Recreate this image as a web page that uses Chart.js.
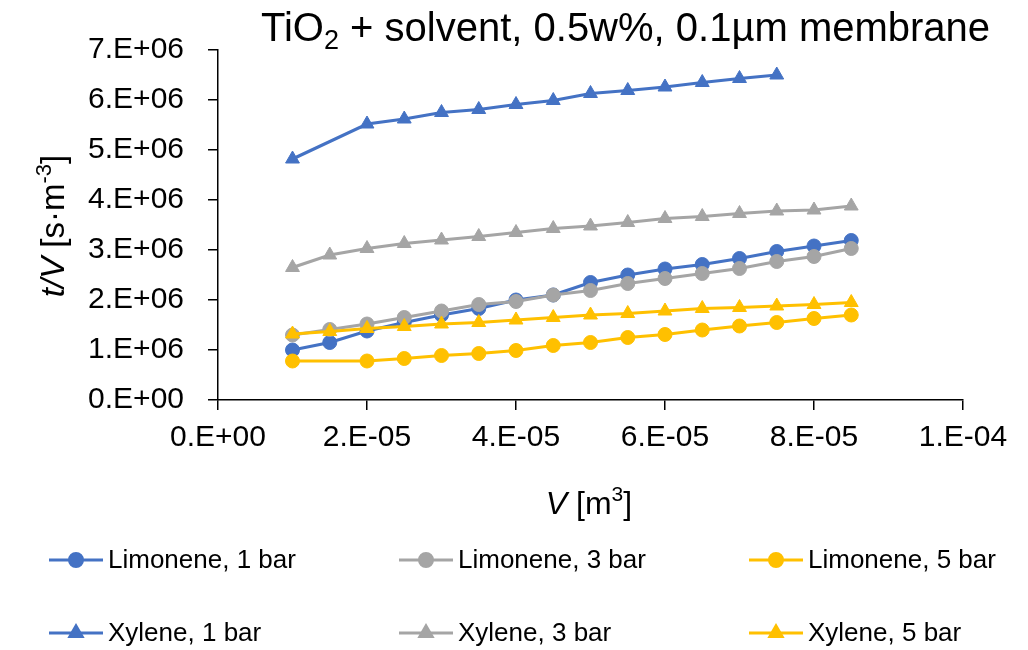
<!DOCTYPE html>
<html>
<head>
<meta charset="utf-8">
<script src="https://cdn.jsdelivr.net/npm/chart.js"></script>
<style>
  html, body { margin: 0; padding: 0; background: #fff; }
  #wrap { width: 1028px; height: 650px; }
</style>
</head>
<body>
<div id="wrap"><canvas id="filtChart" width="1028" height="650"></canvas></div>
<script>
// filtrate volume V [m3]
var volAll  = [1.0e-5, 1.5e-5, 2.0e-5, 2.5e-5, 3.0e-5, 3.5e-5, 4.0e-5, 4.5e-5,
               5.0e-5, 5.5e-5, 6.0e-5, 6.5e-5, 7.0e-5, 7.5e-5, 8.0e-5, 8.5e-5];
var volLim5 = [1.0e-5, 2.0e-5, 2.5e-5, 3.0e-5, 3.5e-5, 4.0e-5, 4.5e-5, 5.0e-5,
               5.5e-5, 6.0e-5, 6.5e-5, 7.0e-5, 7.5e-5, 8.0e-5, 8.5e-5];
var volXyl1 = [1.0e-5, 2.0e-5, 2.5e-5, 3.0e-5, 3.5e-5, 4.0e-5, 4.5e-5, 5.0e-5,
               5.5e-5, 6.0e-5, 6.5e-5, 7.0e-5, 7.5e-5];

// t/V [s/m3]
var limonene1 = [1.00e6, 1.15e6, 1.38e6, 1.55e6, 1.70e6, 1.83e6, 2.00e6, 2.10e6,
                 2.35e6, 2.50e6, 2.62e6, 2.71e6, 2.83e6, 2.97e6, 3.08e6, 3.19e6];
var limonene3 = [1.30e6, 1.41e6, 1.52e6, 1.65e6, 1.78e6, 1.91e6, 1.97e6, 2.10e6,
                 2.19e6, 2.33e6, 2.43e6, 2.53e6, 2.63e6, 2.77e6, 2.87e6, 3.03e6];
var limonene5 = [0.78e6, 0.78e6, 0.83e6, 0.89e6, 0.93e6, 0.99e6, 1.09e6, 1.15e6,
                 1.25e6, 1.31e6, 1.40e6, 1.48e6, 1.55e6, 1.63e6, 1.70e6];
var xylene1   = [4.82e6, 5.52e6, 5.62e6, 5.75e6, 5.81e6, 5.91e6, 5.99e6, 6.13e6,
                 6.19e6, 6.26e6, 6.35e6, 6.43e6, 6.50e6];
var xylene3   = [2.65e6, 2.90e6, 3.03e6, 3.13e6, 3.20e6, 3.27e6, 3.35e6, 3.43e6,
                 3.48e6, 3.55e6, 3.63e6, 3.67e6, 3.73e6, 3.78e6, 3.80e6, 3.88e6];
var xylene5   = [1.32e6, 1.37e6, 1.43e6, 1.47e6, 1.52e6, 1.55e6, 1.60e6, 1.65e6,
                 1.70e6, 1.73e6, 1.78e6, 1.83e6, 1.85e6, 1.88e6, 1.91e6, 1.95e6];

var seriesNames = ["Limonene, 1 bar", "Limonene, 3 bar", "Limonene, 5 bar",
                   "Xylene, 1 bar", "Xylene, 3 bar", "Xylene, 5 bar"];

var blue = '#4472C4';
var grey = '#A5A5A5';
var gold = '#FFC000';
var FONT = "'Liberation Sans', Arial, sans-serif";

function pts(xs, ys) {
    return xs.map(function (x, i) { return { x: x, y: ys[i] }; });
}

// 2.E-05 style labels
function sci(v) {
    var parts = Number(v).toExponential(0).split('e');
    var exp = parseInt(parts[1], 10);
    return parts[0] + '.E' + (exp < 0 ? '-' : '+') + String(Math.abs(exp)).padStart(2, '0');
}

function series(label, xs, ys, color, shape, order) {
    return {
        label: label,
        data: pts(xs, ys),
        borderColor: color,
        backgroundColor: color,
        borderWidth: 3.2,
        pointStyle: shape,
        pointRadius: shape === 'triangle' ? 8 : 7,
        pointBorderWidth: 1,
        tension: 0,
        order: order
    };
}

// draw a row of text pieces with their own fonts / offsets
function drawRuns(ctx, runs, x, y, align) {
    var total = 0;
    runs.forEach(function (r) { ctx.font = r.font; r.w = ctx.measureText(r.text).width; total += r.w; });
    var cx = align === 'center' ? x - total / 2 : x;
    ctx.textAlign = 'left';
    ctx.textBaseline = 'alphabetic';
    runs.forEach(function (r) {
        ctx.font = r.font;
        ctx.fillText(r.text, cx, y + (r.dy || 0));
        cx += r.w;
    });
}

var textPlugin = {
    id: 'textPlugin',
    afterDraw: function (chart) {
        var ctx = chart.ctx;
        ctx.save();
        ctx.fillStyle = '#000';

        // title
        drawRuns(ctx, [
            { text: 'TiO', font: '40px ' + FONT },
            { text: '2', font: '27px ' + FONT, dy: 8 },
            { text: ' + solvent, 0.5w%, 0.1µm membrane', font: '40px ' + FONT }
        ], 261, 41, 'left');

        // x axis title
        drawRuns(ctx, [
            { text: 'V', font: 'italic 32px ' + FONT },
            { text: ' [m', font: '32px ' + FONT },
            { text: '3', font: '21px ' + FONT, dy: -13 },
            { text: ']', font: '32px ' + FONT }
        ], 589, 514, 'center');

        // y axis title
        ctx.save();
        ctx.translate(64, 226);
        ctx.rotate(-Math.PI / 2);
        drawRuns(ctx, [
            { text: 't/V', font: 'italic 33px ' + FONT },
            { text: ' [s·m', font: '33px ' + FONT },
            { text: '-3', font: '22px ' + FONT, dy: -13 },
            { text: ']', font: '33px ' + FONT }
        ], 0, 0, 'center');
        ctx.restore();

        // legend, three columns by two rows
        var colX = [49, 399, 749];
        var rowY = [560, 633];
        chart.data.datasets.forEach(function (ds, i) {
            var x0 = colX[i % 3];
            var y0 = rowY[Math.floor(i / 3)];
            ctx.strokeStyle = ds.borderColor;
            ctx.fillStyle = ds.borderColor;
            ctx.lineWidth = 3;
            ctx.beginPath();
            ctx.moveTo(x0, y0);
            ctx.lineTo(x0 + 54, y0);
            ctx.stroke();
            Chart.helpers.drawPoint(ctx, {
                pointStyle: ds.pointStyle,
                radius: ds.pointStyle === 'triangle' ? 7 : 6.5,
                borderWidth: 1
            }, x0 + 27, y0);
            ctx.fill();
            ctx.fillStyle = '#000';
            ctx.font = '26px ' + FONT;
            ctx.textAlign = 'left';
            ctx.textBaseline = 'middle';
            ctx.fillText(ds.label, x0 + 59, y0 + 1);
        });
        ctx.restore();
    }
};

var tickFont = { family: FONT, size: 30 };

new Chart(document.getElementById('filtChart'), {
    type: 'line',
    data: {
        datasets: [
            series(seriesNames[0], volAll, limonene1, blue, 'circle', 5),
            series(seriesNames[1], volAll, limonene3, grey, 'circle', 4),
            series(seriesNames[2], volLim5, limonene5, gold, 'circle', 3),
            series(seriesNames[3], volXyl1, xylene1, blue, 'triangle', 2),
            series(seriesNames[4], volAll, xylene3, grey, 'triangle', 1),
            series(seriesNames[5], volAll, xylene5, gold, 'triangle', 0)
        ]
    },
    options: {
        responsive: false,
        animation: false,
        layout: { padding: { left: 0, top: 50, right: 65, bottom: 0 } },
        plugins: {
            legend: { display: false },
            title: { display: false },
            tooltip: { enabled: false }
        },
        scales: {
            x: {
                type: 'linear',
                min: 0,
                max: 1e-4,
                afterFit: function (scale) { scale.height = 250; },
                border: { color: '#000', width: 1.5 },
                grid: { drawOnChartArea: false, drawTicks: true, tickLength: 10, color: '#000', lineWidth: 1.5 },
                ticks: {
                    stepSize: 2e-5,
                    autoSkip: false,
                    maxRotation: 0,
                    padding: 10,
                    color: '#000',
                    font: tickFont,
                    callback: function (v) { return sci(v); }
                }
            },
            y: {
                min: 0,
                max: 7e6,
                afterFit: function (scale) { scale.width = 218; },
                border: { color: '#000', width: 1.5 },
                grid: { drawOnChartArea: false, drawTicks: true, tickLength: 10, color: '#000', lineWidth: 1.5 },
                ticks: {
                    stepSize: 1e6,
                    padding: 24,
                    color: '#000',
                    font: tickFont,
                    callback: function (v) { return sci(v); }
                }
            }
        }
    },
    plugins: [textPlugin]
});
</script>
</body>
</html>
